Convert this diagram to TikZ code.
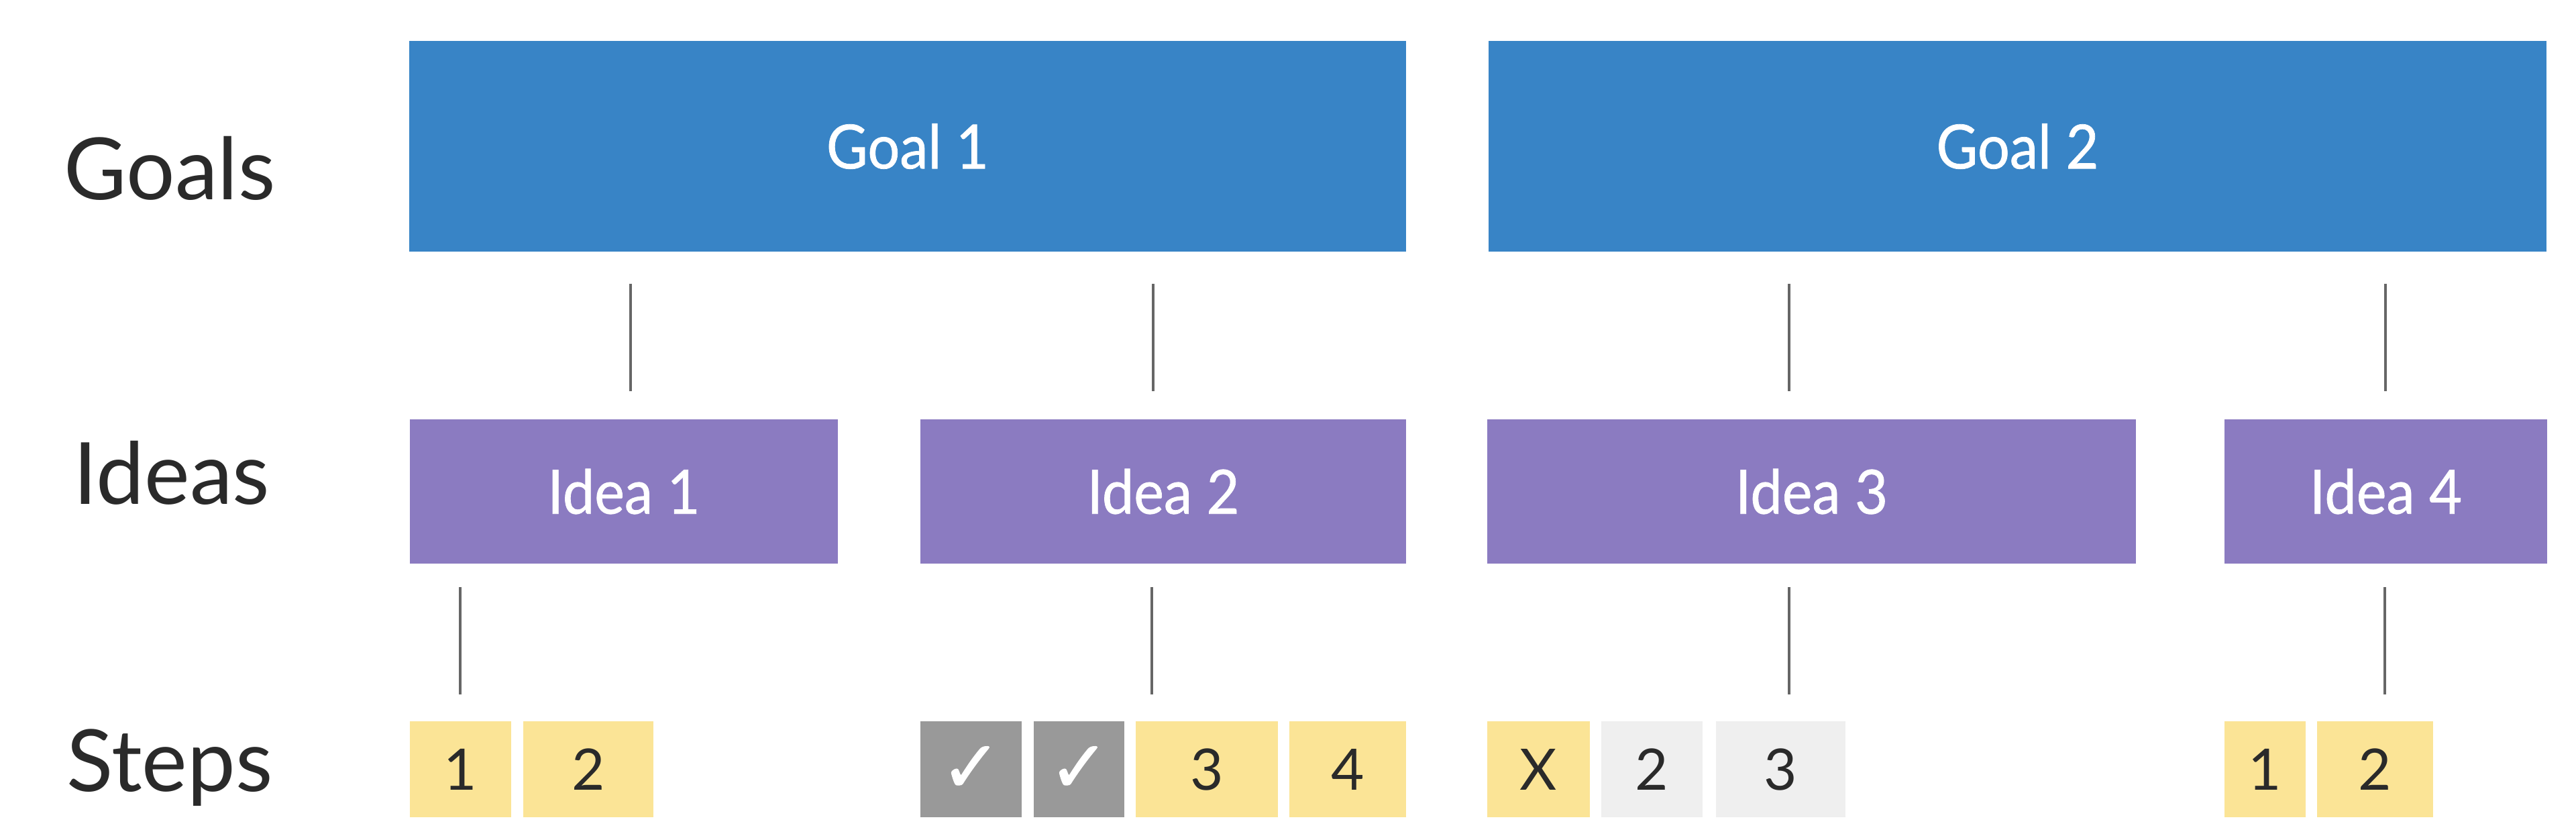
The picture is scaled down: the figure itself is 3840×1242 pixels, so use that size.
\documentclass[tikz,border=0pt]{standalone}
\usepackage{fontspec}
\setmainfont{Lato}
\newfontfamily\boxfont[FakeBold=0.8, FakeStretch=0.93]{Lato}
\newfontfamily\symfont[FakeBold=1]{DejaVu Sans}
\definecolor{goalblue}{HTML}{3884C6}
\definecolor{ideapurple}{HTML}{8B7BC1}
\definecolor{stepyellow}{HTML}{FBE496}
\definecolor{donegray}{HTML}{999999}
\definecolor{todogray}{HTML}{EFEFEF}
\definecolor{linegray}{HTML}{666666}
\definecolor{txtdark}{HTML}{2A2A2A}
\tikzset{
  rowlabel/.style={anchor=base, inner sep=0pt, font=\fontsize{32pt}{38pt}\selectfont, text=txtdark},
  goalbox/.style={rectangle, fill=goalblue, inner sep=0pt, minimum height=78.5pt, text=white, font=\boxfont\fontsize{22.75pt}{27pt}\selectfont},
  ideabox/.style={rectangle, fill=ideapurple, inner sep=0pt, minimum height=53.75pt, text=white, font=\boxfont\fontsize{22.75pt}{27pt}\selectfont},
  stepbox/.style={rectangle, inner sep=0pt, minimum height=35.75pt, text=txtdark, font=\fontsize{21.3pt}{25pt}\selectfont},
  todo/.style={stepbox, fill=stepyellow},
  done/.style={stepbox, fill=donegray, text=white, font=\symfont\fontsize{27pt}{30pt}\selectfont},
  later/.style={stepbox, fill=todogray},
  conn/.style={draw=linegray, line width=1pt},
  gi/.style={conn, shorten <=11.75pt, shorten >=10.25pt},
  is/.style={conn, shorten <=8.5pt, shorten >=9.75pt}
}
\begin{document}
\begin{tikzpicture}[x=0.25pt, y=-0.25pt]
\useasboundingbox (0,0) rectangle (3840,1242);
% row labels
\node[rowlabel] (lg) at (253,297) {Goals};
\node[rowlabel] (li) at (256,751) {Ideas};
\node[rowlabel] (ls) at (253,1179) {Steps};
% goals
\node[goalbox, minimum width=371.5pt] (g1) at (1353,218) {Goal 1};
\node[goalbox, minimum width=394.25pt] (g2) at (3007.5,218) {Goal 2};
% ideas
\node[ideabox, minimum width=159.5pt] (i1) at (930,732.5) {Idea 1};
\node[ideabox, minimum width=181pt] (i2) at (1734,732.5) {Idea 2};
\node[ideabox, minimum width=241.75pt] (i3) at (2700.5,732.5) {Idea 3};
\node[ideabox, minimum width=120.25pt] (i4) at (3556.5,732.5) {Idea 4};
% steps
\node[todo, minimum width=37.75pt] (s11) at (686.5,1146.5) {1};
\node[todo, minimum width=48.5pt] (s12) at (877,1146.5) {2};
\node[done, minimum width=37.75pt] (s21) at (1447.5,1146.5) {✓};
\node[done, minimum width=33.75pt] (s22) at (1608.5,1146.5) {✓};
\node[todo, minimum width=53pt] (s23) at (1799,1146.5) {3};
\node[todo, minimum width=43.5pt] (s24) at (2009,1146.5) {4};
\node[todo, minimum width=38.25pt] (s31) at (2293.5,1146.5) {X};
\node[later, minimum width=37.75pt] (s32) at (2462.5,1146.5) {2};
\node[later, minimum width=48.25pt] (s33) at (2654.5,1146.5) {3};
\node[todo, minimum width=30.25pt] (s41) at (3376.5,1146.5) {1};
\node[todo, minimum width=43.25pt] (s42) at (3540.5,1146.5) {2};
% connector columns
\coordinate (c1) at (940,0);
\coordinate (c2) at (1719,0);
\coordinate (c3) at (2667,0);
\coordinate (c4) at (3556,0);
\coordinate (d1) at (686,0);
\coordinate (d2) at (1717,0);
\coordinate (d3) at (2667,0);
\coordinate (d4) at (3555,0);
% goal -> idea
\draw[gi] (g1.south -| c1) -- (i1.north -| c1);
\draw[gi] (g1.south -| c2) -- (i2.north -| c2);
\draw[gi] (g2.south -| c3) -- (i3.north -| c3);
\draw[gi] (g2.south -| c4) -- (i4.north -| c4);
% idea -> steps
\draw[is] (i1.south -| d1) -- (s11.north -| d1);
\draw[is] (i2.south -| d2) -- (s23.north -| d2);
\draw[is] (i3.south -| d3) -- (s33.north -| d3);
\draw[is] (i4.south -| d4) -- (s42.north -| d4);
\end{tikzpicture}
\end{document}
